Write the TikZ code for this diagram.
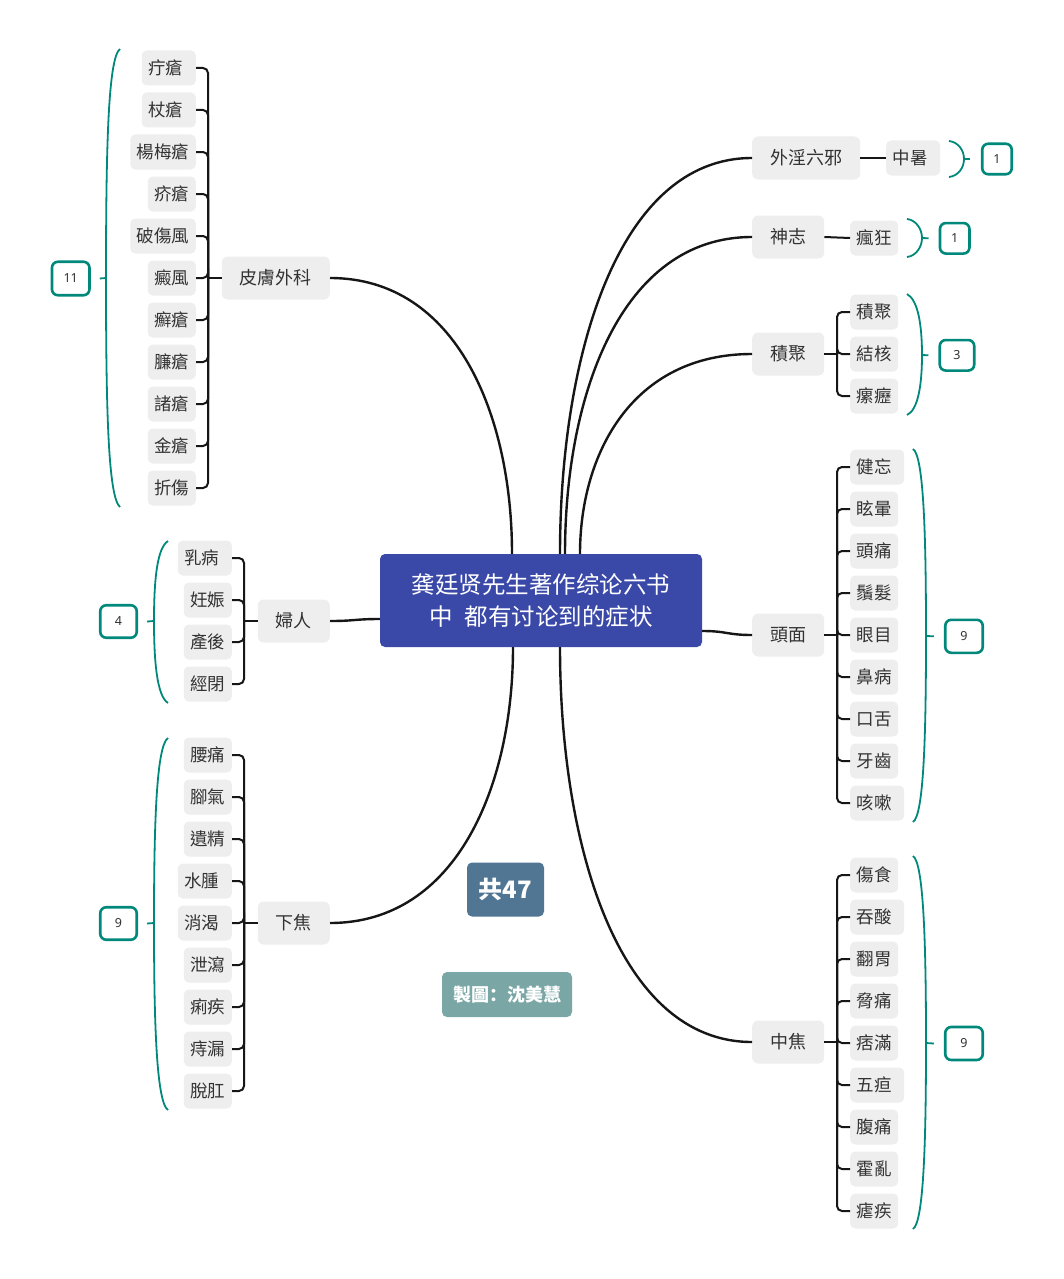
\documentclass[tikz,border=0pt]{standalone}
\usepackage{fontspec}
\newfontfamily\tcfont{Noto Sans CJK TC}
\newfontfamily\scfont{Noto Sans CJK SC}
\newfontfamily\numfont{Noto Sans}
\definecolor{boxgray}{HTML}{EEEEEE}
\definecolor{textdark}{HTML}{333333}
\definecolor{linedark}{HTML}{161616}
\definecolor{tealc}{RGB}{0,137,123}
\definecolor{centralc}{RGB}{58,72,168}
\definecolor{totalc}{RGB}{81,118,148}
\definecolor{authorc}{RGB}{122,167,166}
\begin{document}
\begin{tikzpicture}[x=1pt,y=-1pt,
  leafbox/.style={fill=boxgray, rounded corners=5pt, inner xsep=6.5pt, inner ysep=0pt, minimum height=35pt, text=textdark, font={\tcfont\fontsize{17.5pt}{21pt}\selectfont}},
  topicbox/.style={fill=boxgray, rounded corners=6pt, inner xsep=18pt, inner ysep=0pt, minimum height=43pt, text=textdark, font={\tcfont\fontsize{18pt}{21pt}\selectfont}},
  numbox/.style={draw=tealc, line width=2.6pt, fill=white, rounded corners=6pt, inner sep=0pt, text=textdark, font={\numfont\fontsize{12.5pt}{14pt}\selectfont}},
  conn/.style={draw=linedark, line width=2pt, rounded corners=5pt},
  mainline/.style={draw=linedark, line width=2.4pt},
  bracec/.style={draw=tealc, line width=1.8pt},
]
\useasboundingbox (0,0) rectangle (1063,1279);
\fill[white] (0,0) rectangle (1063,1279);

% central
\node[fill=centralc, rounded corners=5pt, minimum width=322pt, minimum height=93pt, inner sep=0pt, text=white, align=center, font={\scfont\fontsize{23.5pt}{32pt}\selectfont}] (c) at (541,600.5) {龚廷贤先生著作综论六书\\中\hspace{12pt}都有讨论到的症状};
\node[fill=totalc, rounded corners=5pt, minimum width=77pt, minimum height=54pt, inner sep=0pt, text=white, font={\tcfont\bfseries\fontsize{24pt}{28pt}\selectfont}] (tot) at (505.5,889.5) {共47};
\node[fill=authorc, rounded corners=5pt, minimum width=130pt, minimum height=45pt, inner sep=0pt, text=white, font={\scfont\bfseries\fontsize{18pt}{21pt}\selectfont}] (auth) at (507,994.5) {製圖：沈美慧};

% level 1 topics
\node[topicbox, anchor=east] (p1) at (330,278) {皮膚外科};
\node[topicbox, anchor=east] (p2) at (330,621) {婦人};
\node[topicbox, anchor=east] (p3) at (330,923) {下焦};
\node[topicbox, anchor=west] (q1) at (752,158) {外淫六邪};
\node[topicbox, anchor=west] (q2) at (752,237) {神志};
\node[topicbox, anchor=west] (q3) at (752,354) {積聚};
\node[topicbox, anchor=west] (q4) at (752,635) {頭面};
\node[topicbox, anchor=west] (q5) at (752,1042) {中焦};

% main curves
\draw[mainline] ([xshift=-29pt]c.north) .. controls (512,416) and (457,278) .. (p1.east);
\draw[mainline] ([yshift=-18.5pt]c.west) .. controls (355,619) and (355,621) .. (p2.east);
\draw[mainline] ([xshift=-28pt]c.south) .. controls (513,785) and (457,923) .. (p3.east);
\draw[mainline] ([xshift=19pt]c.north) .. controls (560,356) and (618,158) .. (q1.west);
\draw[mainline] ([xshift=24pt]c.north) .. controls (565,395) and (621,237) .. (q2.west);
\draw[mainline] ([xshift=39pt]c.north) .. controls (580,454) and (632,354) .. (q3.west);
\draw[mainline] ([yshift=-30.5pt]c.east) .. controls (727,631) and (727,635) .. (q4.west);
\draw[mainline] ([xshift=19pt]c.south) .. controls (560,845) and (618,1042) .. (q5.west);

% ---------- 皮膚外科 ----------
\node[leafbox, anchor=east] (a1) at (196,68) {疔瘡\kern6pt};
\node[leafbox, anchor=east] (a2) at (196,110) {杖瘡\kern6pt};
\node[leafbox, anchor=east] (a3) at (196,152) {楊梅瘡};
\node[leafbox, anchor=east] (a4) at (196,194) {疥瘡};
\node[leafbox, anchor=east] (a5) at (196,236) {破傷風};
\node[leafbox, anchor=east] (a6) at (196,278) {癜風};
\node[leafbox, anchor=east] (a7) at (196,320) {癬瘡};
\node[leafbox, anchor=east] (a8) at (196,362) {臁瘡};
\node[leafbox, anchor=east] (a9) at (196,404) {諸瘡};
\node[leafbox, anchor=east] (a10) at (196,446) {金瘡};
\node[leafbox, anchor=east] (a11) at (196,488) {折傷};
\coordinate (ja) at (208,278);
\foreach \i in {1,...,11} {\draw[conn] (a\i.east) -| (ja);}
\draw[conn] (ja) -- (p1.west);
\draw[bracec] (120,49) .. controls (108,58) and (106,150) .. (106,278) .. controls (106,406) and (108,497) .. (120,507);
\coordinate (ta) at (106,278);
\node[numbox, minimum width=37.5pt, minimum height=33.5pt] (na) at (70.7,278.5) {11};
\draw[bracec] (ta) -- ([xshift=9pt]na.east);

% ---------- 婦人 ----------
\node[leafbox, anchor=east] (b1) at (232,558) {乳病\kern6pt};
\node[leafbox, anchor=east] (b2) at (232,600) {妊娠};
\node[leafbox, anchor=east] (b3) at (232,642) {產後};
\node[leafbox, anchor=east] (b4) at (232,684) {經閉};
\coordinate (jb) at (244,621);
\foreach \i in {1,...,4} {\draw[conn] (b\i.east) -| (jb);}
\draw[conn] (jb) -- (p2.west);
\draw[bracec] (168,541) .. controls (157,548) and (154,580) .. (154,621) .. controls (154,662) and (157,696) .. (168,703);
\coordinate (tb) at (154,621);
\node[numbox, minimum width=36.5pt, minimum height=32.5pt] (nb) at (118.5,621.5) {4};
\draw[bracec] (tb) -- ([xshift=9pt]nb.east);

% ---------- 下焦 ----------
\node[leafbox, anchor=east] (d1) at (232,755) {腰痛};
\node[leafbox, anchor=east] (d2) at (232,797) {腳氣};
\node[leafbox, anchor=east] (d3) at (232,839) {遺精};
\node[leafbox, anchor=east] (d4) at (232,881) {水腫\kern6pt};
\node[leafbox, anchor=east] (d5) at (232,923) {消渴\kern6pt};
\node[leafbox, anchor=east] (d6) at (232,965) {泄瀉};
\node[leafbox, anchor=east] (d7) at (232,1007) {痢疾};
\node[leafbox, anchor=east] (d8) at (232,1049) {痔漏};
\node[leafbox, anchor=east] (d9) at (232,1091) {脫肛};
\coordinate (jd) at (244,923);
\foreach \i in {1,...,9} {\draw[conn] (d\i.east) -| (jd);}
\draw[conn] (jd) -- (p3.west);
\draw[bracec] (168,738) .. controls (156,746) and (154,830) .. (154,923) .. controls (154,1016) and (156,1102) .. (168,1110);
\coordinate (td) at (154,923);
\node[numbox, minimum width=36.5pt, minimum height=32.5pt] (nd) at (118.5,923.5) {9};
\draw[bracec] (td) -- ([xshift=9pt]nd.east);

% ---------- 外淫六邪 ----------
\node[leafbox, anchor=west] (e1) at (886,158) {中暑\kern6pt};
\draw[conn] (q1.east) -- (e1.west);
\draw[bracec] (949,141) .. controls (958,142) and (964,150) .. (964,159) .. controls (964,168) and (958,176) .. (949,177);
\coordinate (te) at (964,159);
\node[numbox, minimum width=29.5pt, minimum height=30.5pt] (ne) at (997,159) {1};
\draw[bracec] (te) -- ([xshift=-11pt]ne.west);

% ---------- 神志 ----------
\node[leafbox, anchor=west] (f1) at (850,238) {瘋狂};
\draw[conn] (q2.east) -- (f1.west);
\draw[bracec] (907,219) .. controls (916,220) and (922,229) .. (922,238) .. controls (922,247) and (916,256) .. (907,257);
\coordinate (tf) at (922,238);
\node[numbox, minimum width=29.5pt, minimum height=30.5pt] (nf) at (954.7,238.3) {1};
\draw[bracec] (tf) -- ([xshift=-10pt]nf.west);

% ---------- 積聚 ----------
\node[leafbox, anchor=west] (g1) at (850,312) {積聚};
\node[leafbox, anchor=west] (g2) at (850,354) {結核};
\node[leafbox, anchor=west] (g3) at (850,396) {瘰癧};
\coordinate (jg) at (837,354);
\foreach \i in {1,...,3} {\draw[conn] (g\i.west) -| (jg);}
\draw[conn] (q3.east) -- (jg);
\draw[bracec] (907,294) .. controls (918,300) and (922,325) .. (922,355) .. controls (922,385) and (918,410) .. (907,415);
\coordinate (tg) at (922,355);
\node[numbox, minimum width=34.5pt, minimum height=30.5pt] (ng) at (957,355.3) {3};
\draw[bracec] (tg) -- ([xshift=-10pt]ng.west);

% ---------- 頭面 ----------
\node[leafbox, anchor=west] (h1) at (850,467) {健忘\kern6pt};
\node[leafbox, anchor=west] (h2) at (850,509) {眩暈};
\node[leafbox, anchor=west] (h3) at (850,551) {頭痛};
\node[leafbox, anchor=west] (h4) at (850,593) {鬚髮};
\node[leafbox, anchor=west] (h5) at (850,635) {眼目};
\node[leafbox, anchor=west] (h6) at (850,677) {鼻病};
\node[leafbox, anchor=west] (h7) at (850,719) {口舌};
\node[leafbox, anchor=west] (h8) at (850,761) {牙齒};
\node[leafbox, anchor=west] (h9) at (850,803) {咳嗽\kern6pt};
\coordinate (jh) at (837,635);
\foreach \i in {1,...,9} {\draw[conn] (h\i.west) -| (jh);}
\draw[conn] (q4.east) -- (jh);
\draw[bracec] (913,449) .. controls (924,456) and (926,540) .. (926,636) .. controls (926,732) and (924,815) .. (913,822);
\coordinate (th) at (926,636);
\node[numbox, minimum width=37.5pt, minimum height=33pt] (nh) at (964,636.3) {9};
\draw[bracec] (th) -- ([xshift=-10pt]nh.west);

% ---------- 中焦 ----------
\node[leafbox, anchor=west] (k1) at (850,875) {傷食};
\node[leafbox, anchor=west] (k2) at (850,917) {吞酸\kern6pt};
\node[leafbox, anchor=west] (k3) at (850,959) {翻胃};
\node[leafbox, anchor=west] (k4) at (850,1001) {脅痛};
\node[leafbox, anchor=west] (k5) at (850,1043) {痞滿};
\node[leafbox, anchor=west] (k6) at (850,1085) {五疸\kern6pt};
\node[leafbox, anchor=west] (k7) at (850,1127) {腹痛};
\node[leafbox, anchor=west] (k8) at (850,1169) {霍亂};
\node[leafbox, anchor=west] (k9) at (850,1211) {瘧疾};
\coordinate (jk) at (837,1042);
\foreach \i in {1,...,9} {\draw[conn] (k\i.west) -| (jk);}
\draw[conn] (q5.east) -- (jk);
\draw[bracec] (913,856) .. controls (924,863) and (926,950) .. (926,1043) .. controls (926,1136) and (924,1222) .. (913,1229);
\coordinate (tk) at (926,1043);
\node[numbox, minimum width=37.5pt, minimum height=33pt] (nk) at (964,1043.5) {9};
\draw[bracec] (tk) -- ([xshift=-10pt]nk.west);
\end{tikzpicture}
\end{document}
